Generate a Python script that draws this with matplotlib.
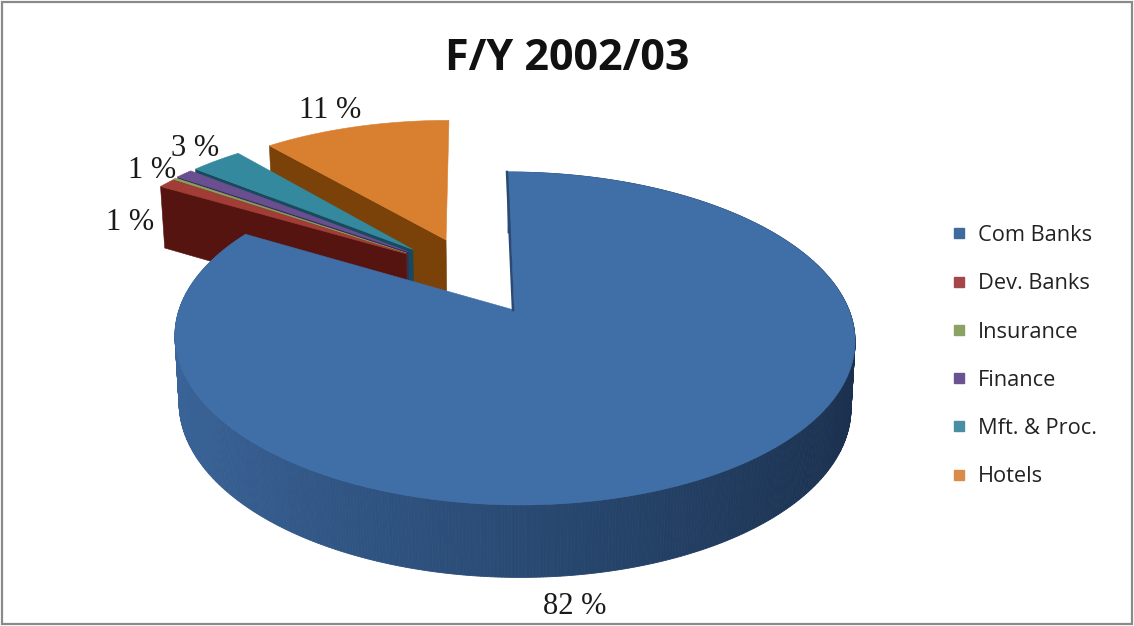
import numpy as np
import matplotlib
matplotlib.use("Agg")
import matplotlib.pyplot as plt
from matplotlib.lines import Line2D
from matplotlib.patches import Rectangle

categories = ["Com Banks", "Dev. Banks", "Insurance", "Finance", "Mft. & Proc.", "Hotels"]
shares = [82, 1, 0.2, 1, 3, 11]
title = "F/Y 2002/03"

top_colors = ["#406EA6", "#A23C37", "#8AA35A", "#6A4F90", "#35899F", "#D97F30"]
wall_colors = ["#25446D", "#561410", "#4A5A28", "#3A2A5A", "#164A5C", "#7A4208"]
legend_colors = ["#3F6A9E", "#A5474A", "#8CA262", "#6A5391", "#4A8EA3", "#D98C48"]

# how far each slice is pulled out of the pie, in disc coordinates
offsets = [(0, 0), (-0.335, 0.37), (-0.335, 0.375), (-0.33, 0.385), (-0.315, 0.40), (-0.21, 0.468)]
# where the percent labels go, None = no label
label_pos = [(575, 606), (130, 222), None, (152, 170), (195, 148), (330, 111)]

# perspective of the pie
cx, cy = 514, 310
rx, ry = 335, 161.6
k = 0.171
lean = -6
depth = 66


def project(u, v, z=0.0):
    u = np.asarray(u, dtype=float)
    v = np.asarray(v, dtype=float)
    d = 1 + k * v
    x = cx + rx * u / d * (1 - 0.012 * z) + lean * v
    y = cy - ry * v / d + z * depth / np.sqrt(d)
    return x, y


def arc(start, end, off):
    t = np.radians(np.linspace(start, end, max(int(abs(end - start)) * 2, 6)))
    return np.sin(t) + off[0], np.cos(t) + off[1]


def blend(c1, c2, t):
    a = np.array(matplotlib.colors.to_rgb(c1))
    b = np.array(matplotlib.colors.to_rgb(c2))
    return tuple(a + (b - a) * t)


def rim_color(u):
    # side of the big slice gets darker from left to right
    if u < 0:
        return blend("#3A6499", "#294A73", u + 1)
    return blend("#294A73", "#1A2F4C", u)


def draw_big_slice(ax, start, end, off, top):
    au, av = arc(start, end, off)
    xt, yt = project(au, av)
    xb, yb = project(au, av, 1.0)
    for i in range(len(au) - 1):
        ax.fill([xt[i], xt[i + 1], xb[i + 1], xb[i]],
                [yt[i], yt[i + 1], yb[i + 1], yb[i]],
                color=rim_color(np.clip(au[i], -1, 1)), lw=0.6)
    x0, y0 = project(off[0], off[1])
    ax.fill(np.r_[x0, xt], np.r_[y0, yt], color=top, lw=0.4)


def draw_small_slice(ax, start, end, off, top, wall):
    # only the radial wall on the left side can be seen on these
    t = np.radians(start)
    us = np.array([off[0], off[0] + np.sin(t)])
    vs = np.array([off[1], off[1] + np.cos(t)])
    xt, yt = project(us, vs)
    xb, yb = project(us, vs, 1.0)
    ax.fill(np.r_[xt, xb[::-1]], np.r_[yt, yb[::-1]], color=wall, lw=0.4)

    au, av = arc(start, end, off)
    xt, yt = project(au, av)
    x0, y0 = project(off[0], off[1])
    ax.fill(np.r_[x0, xt], np.r_[y0, yt], color=top, lw=0.4)


fig = plt.figure(figsize=(11.34, 6.26), dpi=100)
ax = fig.add_axes([0, 0, 1, 1])
ax.set_xlim(0, 1134)
ax.set_ylim(626, 0)
ax.axis("off")

ax.add_patch(Rectangle((1.5, 1.5), 1130, 622, fill=False, ec="#8A8A8A", lw=1.6))

ax.text(567, 58, title, ha="center", va="center", fontsize=31, fontweight="bold",
        family="Open Sans", color="#111111")

# slice angles, clockwise from twelve o'clock
fractions = np.array(shares) / np.sum(shares)
edges = np.r_[0, np.cumsum(fractions)] * 360

# back slices first, the big one last
for i in range(len(shares) - 1, 0, -1):
    draw_small_slice(ax, edges[i], edges[i + 1], offsets[i], top_colors[i], wall_colors[i])
draw_big_slice(ax, edges[0], edges[1], offsets[0], top_colors[0])

# thin dark edge along the start of the big slice
x_edge, y_edge = project([0, 0], [0, 1])
ax.plot(x_edge - 1, y_edge, color="#2A4A73", lw=1.8)

for value, pos in zip(shares, label_pos):
    if pos is not None:
        ax.text(pos[0], pos[1], f"{value} %", ha="center", va="center", fontsize=22,
                family="Liberation Serif", color="#1A1A1A")

handles = [Line2D([], [], ls="", marker="s", ms=7.5, color=c) for c in legend_colors]
ax.legend(handles, categories, loc="upper left", bbox_to_anchor=(948, 225),
          bbox_transform=ax.transData, frameon=False, labelspacing=1.25,
          handletextpad=0.38, handlelength=1.0, borderpad=0, borderaxespad=0,
          labelcolor="#222222", prop={"family": "Open Sans", "size": 15.7})

fig.savefig("out.png", dpi=100)
